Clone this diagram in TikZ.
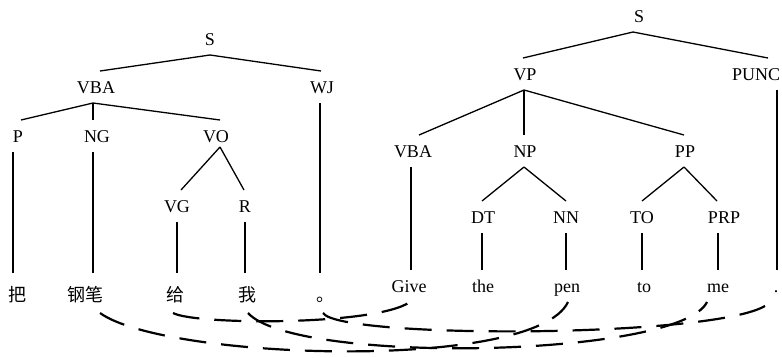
\documentclass[tikz,border=0pt]{standalone}
\usepackage{fontspec}
\setmainfont{Liberation Serif}
\newfontfamily\cjk{Noto Sans CJK SC}
\begin{document}
\begin{tikzpicture}[x=1pt,y=-1pt,
  lab/.style={font=\fontsize{18}{20}\selectfont, anchor=base, text height=12pt, text depth=0pt, inner xsep=1pt, inner ysep=10pt, outer sep=0pt},
  zh/.style={font=\cjk\fontsize{18}{20}\selectfont, anchor=base, text height=16pt, text depth=0pt, inner xsep=0pt, inner ysep=12pt, outer sep=0pt},
  edge/.style={line width=1.3pt},
  link/.style={line width=2.2pt, dash pattern=on 27pt off 15pt}]
\fill[white] (0,0) rectangle (782,357);
\useasboundingbox (0,0) rectangle (782,357);
% left tree
\node[lab] (lS) at (210,45) {S};
\node[lab] (lVBA) at (96,93) {VBA};
\node[lab] (lWJ) at (322,93) {WJ};
\node[lab] (lP) at (18,142) {P};
\node[lab] (lNG) at (97,142) {NG};
\node[lab] (lVO) at (216,142) {VO};
\node[lab] (lVG) at (177,212) {VG};
\node[lab] (lR) at (245,212) {R};
\node[zh] (c1) at (18,301) {把};
\node[zh] (c2) at (85,301) {钢笔};
\node[zh] (c3) at (175,301) {给};
\node[zh] (c4) at (247,301) {我};
\node[zh] (c5) at (325,301) {。};
\draw[edge] (lS.south) -- ([xshift=4pt]lVBA.north);
\draw[edge] (lS.south) -- ([xshift=-1pt]lWJ.north);
\draw[edge] ([xshift=-3pt]lVBA.south) -- ([xshift=3pt]lP.north);
\draw[edge] ([xshift=-3pt]lVBA.south) -- ([xshift=-4pt]lNG.north);
\draw[edge] ([xshift=-3pt]lVBA.south) -- ([xshift=4pt]lVO.north);
\draw[edge] ([xshift=4pt,yshift=5pt]lVO.south) -- ([xshift=4pt]lVG.north);
\draw[edge] ([xshift=4pt,yshift=5pt]lVO.south) -- ([xshift=-1pt]lR.north);
\draw[edge] ([xshift=-5pt]lP.south) -- ([xshift=-5pt]lP.south |- c1.north);
\draw[edge] ([xshift=-4pt]lNG.south) -- ([xshift=-4pt]lNG.south |- c2.north);
\draw[edge] (lVG.south) -- (lVG.south |- c3.north);
\draw[edge] (lR.south) -- (lR.south |- c4.north);
\draw[edge] ([xshift=-2pt]lWJ.south) -- ([xshift=-2pt]lWJ.south |- c5.north);
% right tree
\node[lab] (rS) at (639,22) {S};
\node[lab] (rVP) at (525,80) {VP};
\node[lab] (rPUNC) at (756,80) {PUNC};
\node[lab] (rVBA) at (413,157) {VBA};
\node[lab] (rNP) at (525,157) {NP};
\node[lab] (rPP) at (685,157) {PP};
\node[lab] (rDT) at (483,223) {DT};
\node[lab] (rNN) at (566,223) {NN};
\node[lab] (rTO) at (642,223) {TO};
\node[lab] (rPRP) at (724,223) {PRP};
\node[lab] (e1) at (409,292) {Give};
\node[lab] (e2) at (483,292) {the};
\node[lab] (e3) at (567,292) {pen};
\node[lab] (e4) at (644,292) {to};
\node[lab] (e5) at (718,292) {me};
\node[lab] (e6) at (776,292) {.};
\draw[edge] ([xshift=-6pt]rS.south) -- ([xshift=-2pt]rVP.north);
\draw[edge] ([xshift=-6pt]rS.south) -- ([xshift=12pt]rPUNC.north);
\draw[edge] ([xshift=-1pt]rVP.south) -- ([xshift=6pt]rVBA.north);
\draw[edge] ([xshift=-1pt]rVP.south) -- ([xshift=-1pt]rNP.north);
\draw[edge] ([xshift=-1pt]rVP.south) -- ([xshift=-1pt]rPP.north);
\draw[edge] ([xshift=-1pt]rNP.south) -- ([xshift=-1pt]rDT.north);
\draw[edge] ([xshift=-1pt]rNP.south) -- (rNN.north);
\draw[edge] ([xshift=-1pt]rPP.south) -- (rTO.north);
\draw[edge] ([xshift=-1pt]rPP.south) -- ([xshift=-7pt]rPRP.north);
\draw[edge] ([xshift=-2pt]rVBA.south) -- ([xshift=-2pt]rVBA.south |- e1.north);
\draw[edge] ([xshift=-1pt]rDT.south) -- ([xshift=-1pt]rDT.south |- e2.north);
\draw[edge] (rNN.south) -- (rNN.south |- e3.north);
\draw[edge] (rTO.south) -- (rTO.south |- e4.north);
\draw[edge] ([xshift=-6pt]rPRP.south) -- ([xshift=-6pt]rPRP.south |- e5.north);
\draw[edge] ([xshift=21pt]rPUNC.south) -- ([xshift=21pt]rPUNC.south |- e6.north);
% alignment links
\draw[link] ([xshift=15pt]c2.south) .. controls (165,360) and (535,372) .. ([xshift=1pt]e3.south);
\draw[link] ([xshift=-2pt]c3.south) .. controls (195,325) and (375,326) .. ([xshift=1pt]e1.south);
\draw[link] ([xshift=1pt]c4.south) .. controls (295,365) and (680,358) .. ([xshift=-11pt]e5.south);
\draw[link] ([xshift=-2pt]c5.south) .. controls (340,340) and (740,338) .. ([xshift=-6pt]e6.south);
\end{tikzpicture}
\end{document}
